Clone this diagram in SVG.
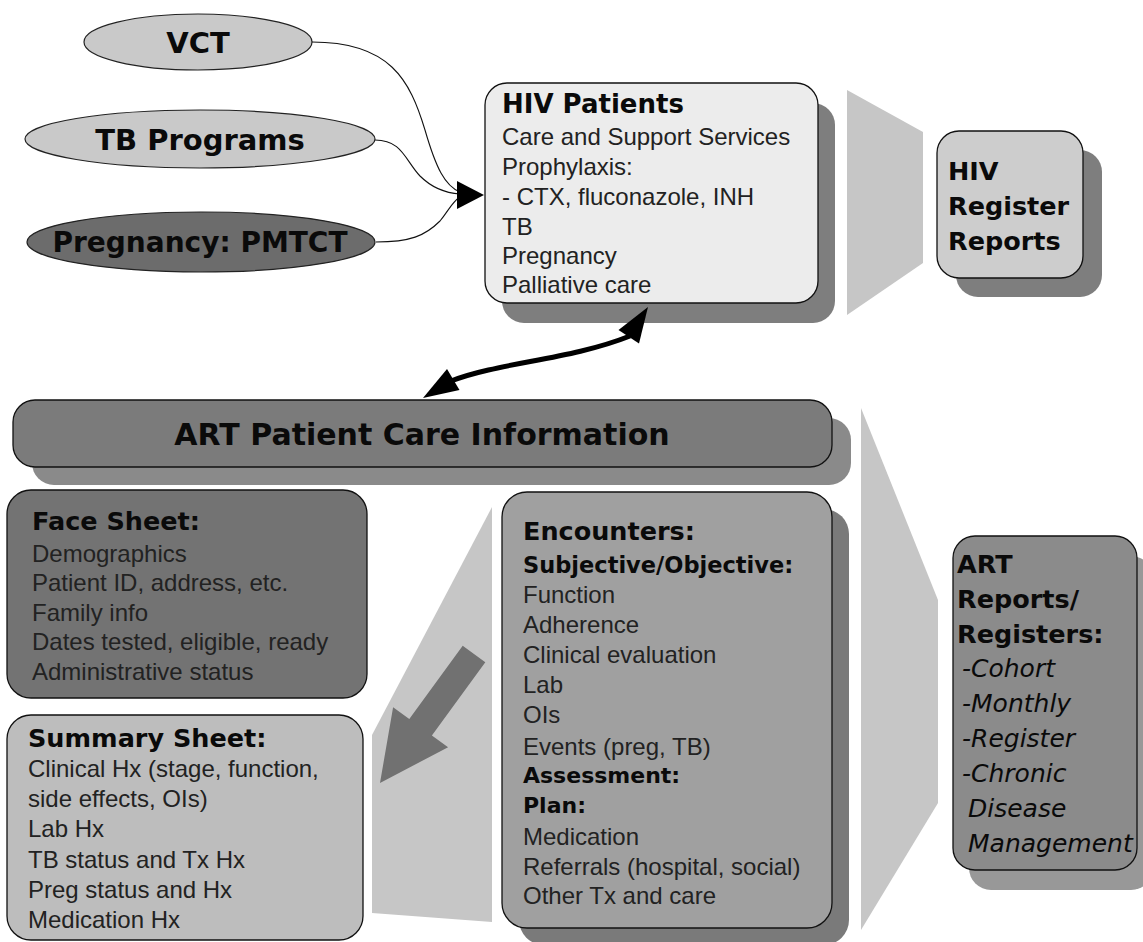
<svg xmlns="http://www.w3.org/2000/svg" width="1143" height="942" viewBox="0 0 1143 942">
  <style>
    .box { stroke: #111; stroke-width: 1.3; }
    .ell { stroke: #222; stroke-width: 1.2; }
    .shadow { stroke: none; }
    .hd { font-family: "DejaVu Sans", sans-serif; font-weight: bold; fill: #0a0a0a; }
    .tx { font-family: "Liberation Sans", Arial, sans-serif; font-size: 24px; fill: #222222; }
    .it { font-family: "DejaVu Sans", sans-serif; font-style: italic; font-size: 25px; fill: #0a0a0a; }
    .thin { fill: none; stroke: #111; stroke-width: 1.1; }
    .band { fill: #c6c6c6; stroke: none; }
  </style>
  <rect width="1143" height="942" fill="#ffffff"/>

  <!-- background projection bands -->
  <g id="bands">
    <polygon class="band" points="847,90 923,132 923,263 847,315"/>
    <polygon class="band" points="861,408 938,600 938,803 861,930"/>
    <polygon class="band" points="492,507 372,735 372,913 492,922"/>
  </g>

  <!-- source programs -->
  <g id="vct">
    <ellipse class="ell" cx="198" cy="42" rx="114" ry="28" fill="#c9c9c9"/>
    <text class="hd" x="198" y="53" font-size="29" text-anchor="middle">VCT</text>
  </g>
  <g id="tb-programs">
    <ellipse class="ell" cx="200" cy="139" rx="175" ry="29" fill="#c9c9c9"/>
    <text class="hd" x="200" y="150" font-size="29" text-anchor="middle">TB Programs</text>
  </g>
  <g id="pmtct">
    <ellipse class="ell" cx="201" cy="242" rx="174" ry="30" fill="#6c6c6c"/>
    <text class="hd" x="200" y="252" font-size="28" text-anchor="middle">Pregnancy: PMTCT</text>
  </g>

  <!-- HIV patients -->
  <g id="hiv-patients">
    <rect class="shadow" x="502" y="103" width="333" height="220" rx="22" fill="#7e7e7e"/>
    <rect class="box" x="485" y="83" width="333" height="220" rx="22" fill="#ececec"/>
    <text class="hd" x="502" y="113" font-size="26">HIV Patients</text>
    <text class="tx" x="502" y="145">Care and Support Services</text>
    <text class="tx" x="502" y="175">Prophylaxis:</text>
    <text class="tx" x="502" y="205">- CTX, fluconazole, INH</text>
    <text class="tx" x="502" y="235">TB</text>
    <text class="tx" x="502" y="264">Pregnancy</text>
    <text class="tx" x="502" y="293">Palliative care</text>
  </g>

  <g id="hiv-register">
    <rect class="shadow" x="956" y="150" width="146" height="147" rx="22" fill="#7e7e7e"/>
    <rect class="box" x="937" y="131" width="146" height="147" rx="22" fill="#cdcdcd"/>
    <text class="hd" x="948" y="180" font-size="25.5">HIV</text>
    <text class="hd" x="948" y="215" font-size="25.5">Register</text>
    <text class="hd" x="948" y="250" font-size="25.5">Reports</text>
  </g>

  <!-- ART patient care -->
  <g id="art-care">
    <rect class="shadow" x="32" y="418" width="819" height="67" rx="22" fill="#8a8a8a"/>
    <rect class="box" x="13" y="400" width="819" height="67" rx="22" fill="#7b7b7b"/>
    <text class="hd" x="422" y="445" font-size="30" text-anchor="middle">ART Patient Care Information</text>
  </g>

  <g id="face-sheet">
    <rect class="box" x="7" y="490" width="360" height="208" rx="24" fill="#737373"/>
    <text class="hd" x="32" y="530" font-size="25.5">Face Sheet:</text>
    <text class="tx" x="32" y="562">Demographics</text>
    <text class="tx" x="32" y="591">Patient ID, address, etc.</text>
    <text class="tx" x="32" y="621">Family info</text>
    <text class="tx" x="32" y="650">Dates tested, eligible, ready</text>
    <text class="tx" x="32" y="680">Administrative status</text>
  </g>

  <!-- transfer arrow from encounters to summary -->
  <g id="transfer-arrow">
    <polygon points="462.7,645.8 409.3,719 393.1,707.2 380,783 448.1,747.2 431.9,735.4 485.3,662.2" fill="#717171"/>
  </g>

  <g id="summary-sheet">
    <rect class="box" x="7" y="715" width="356" height="225" rx="24" fill="#bdbdbd"/>
    <text class="hd" x="28" y="747" font-size="25.5">Summary Sheet:</text>
    <text class="tx" x="28" y="777">Clinical Hx (stage, function,</text>
    <text class="tx" x="28" y="807">side effects, OIs)</text>
    <text class="tx" x="28" y="837">Lab Hx</text>
    <text class="tx" x="28" y="868">TB status and Tx Hx</text>
    <text class="tx" x="28" y="898">Preg status and Hx</text>
    <text class="tx" x="28" y="928">Medication Hx</text>
  </g>

  <g id="encounters">
    <rect class="shadow" x="519" y="509" width="330" height="436" rx="25" fill="#7a7a7a"/>
    <rect class="box" x="502" y="492" width="330" height="436" rx="25" fill="#a0a0a0"/>
    <text class="hd" x="523" y="540" font-size="25.5">Encounters:</text>
    <text class="hd" x="523" y="573" font-size="22.5">Subjective/Objective:</text>
    <text class="tx" x="523" y="603">Function</text>
    <text class="tx" x="523" y="633">Adherence</text>
    <text class="tx" x="523" y="663">Clinical evaluation</text>
    <text class="tx" x="523" y="693">Lab</text>
    <text class="tx" x="523" y="723">OIs</text>
    <text class="tx" x="523" y="755">Events (preg, TB)</text>
    <text class="hd" x="523" y="783" font-size="22">Assessment:</text>
    <text class="hd" x="523" y="813" font-size="22">Plan:</text>
    <text class="tx" x="523" y="845">Medication</text>
    <text class="tx" x="523" y="875">Referrals (hospital, social)</text>
    <text class="tx" x="523" y="904">Other Tx and care</text>
  </g>

  <g id="art-reports">
    <rect class="shadow" x="969" y="556" width="184" height="334" rx="22" fill="#989898"/>
    <rect class="box" x="953" y="536" width="184" height="334" rx="22" fill="#8b8b8b"/>
    <text class="hd" x="957" y="573" font-size="25.5">ART</text>
    <text class="hd" x="957" y="608" font-size="25.5">Reports/</text>
    <text class="hd" x="957" y="643" font-size="25.5">Registers:</text>
    <text class="it" x="962" y="677">-Cohort</text>
    <text class="it" x="962" y="712">-Monthly</text>
    <text class="it" x="962" y="747">-Register</text>
    <text class="it" x="962" y="782">-Chronic</text>
    <text class="it" x="968" y="817">Disease</text>
    <text class="it" x="968" y="852">Management</text>
  </g>

  <!-- connectors -->
  <g id="connectors">
    <path class="thin" d="M312,42 C390,42 410,80 425,130 C436,168 445,186 460,192"/>
    <path class="thin" d="M375,140 C402,140 405,160 420,176 C432,188 445,193 460,194"/>
    <path class="thin" d="M376,242 C410,242 425,236 440,221 C449,210 452,202 460,197"/>
    <polygon points="457,181 484,195 457,209" fill="#000"/>
    <path d="M451,381 C500,362 570,360 630,336" fill="none" stroke="#000" stroke-width="5"/>
    <polygon points="648,307 639,343.5 618.5,330" fill="#000"/>
    <polygon points="423,398 459.5,390 447,369" fill="#000"/>
  </g>
</svg>
